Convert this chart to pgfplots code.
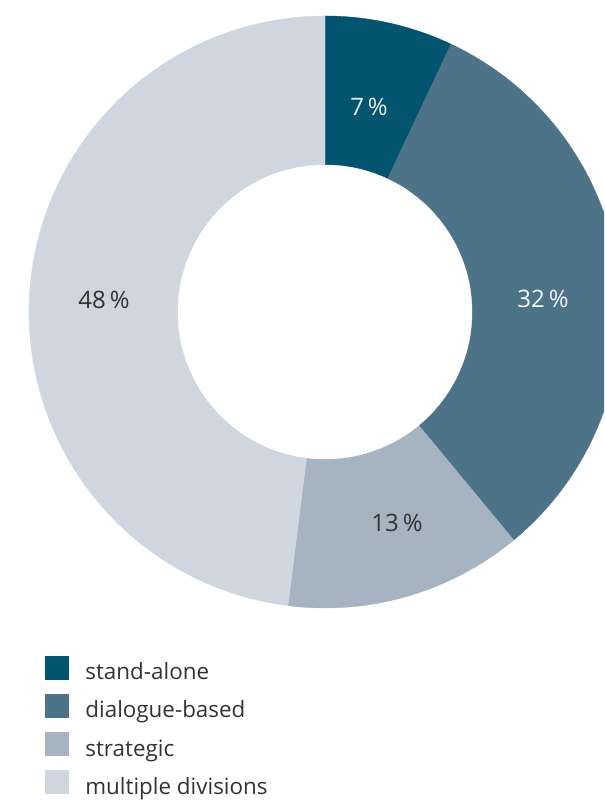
\documentclass[border=0pt]{standalone}
\usepackage{fontspec}
\setmainfont{Open Sans}
\usepackage{pgfplots}
\pgfplotsset{compat=1.18}
\definecolor{c1}{HTML}{03546E}
\definecolor{c2}{HTML}{4D7389}
\definecolor{c3}{HTML}{A6B4C2}
\definecolor{c4}{HTML}{CFD6DF}
\definecolor{txt}{HTML}{333333}
\def\pA{7}\def\pB{32}\def\pC{13}\def\pD{48}
\def\cx{325}\def\cy{489}\def\R{296}\def\r{147}
\begin{document}
\begin{tikzpicture}
\begin{axis}[at={(0,0)}, anchor=south west, width=302pt, height=400.5pt, scale only axis,
  xmin=0, xmax=604, ymin=0, ymax=801, hide axis, clip=true,
  legend style={at={(axis cs:45,145)}, anchor=north west, draw=none, fill=none,
    font=\fontsize{11.2}{13}\selectfont\color{txt}, inner sep=0pt, outer sep=0pt,
    row sep=4.5pt, nodes={inner sep=0pt, text height=8.5pt, text depth=2.6pt},
    /tikz/every odd column/.append style={column sep=8.5pt}},
  legend image code/.code={\fill[#1] (0pt,-2.6pt) rectangle (11.5pt,8.9pt);},
  legend cell align=left,
]
\addplot[fill=c1, draw=c1, line width=0.2pt, domain={90-3.6*\pA}:90, samples=40]
  ({\cx+\R*cos(x)},{\cy+\R*sin(x)}) -- (axis cs:\cx,\cy) -- cycle;
\addplot[fill=c2, draw=c2, line width=0.2pt, domain={90-3.6*(\pA+\pB)}:{90-3.6*\pA}, samples=120]
  ({\cx+\R*cos(x)},{\cy+\R*sin(x)}) -- (axis cs:\cx,\cy) -- cycle;
\addplot[fill=c3, draw=c3, line width=0.2pt, domain={90-3.6*(\pA+\pB+\pC)}:{90-3.6*(\pA+\pB)}, samples=60]
  ({\cx+\R*cos(x)},{\cy+\R*sin(x)}) -- (axis cs:\cx,\cy) -- cycle;
\addplot[fill=c4, draw=c4, line width=0.2pt, domain={90-3.6*(\pA+\pB+\pC+\pD)}:{90-3.6*(\pA+\pB+\pC)}, samples=160]
  ({\cx+\R*cos(x)},{\cy+\R*sin(x)}) -- (axis cs:\cx,\cy) -- cycle;
\addplot[fill=white, draw=white, line width=0.2pt, domain=0:360, samples=200, forget plot]
  ({\cx+\r*cos(x)},{\cy+\r*sin(x)}) -- cycle;
\legend{stand-alone, dialogue-based, strategic, multiple divisions}
\node[font=\fontsize{12}{14}\selectfont, text=white!90!c1] at (axis cs:369,694) {7\,\%};
\node[font=\fontsize{12}{14}\selectfont, text=white!92!c2] at (axis cs:543,502) {32\,\%};
\node[font=\fontsize{12}{14}\selectfont, text=txt] at (axis cs:104,501) {48\,\%};
\node[font=\fontsize{12}{14}\selectfont, text=txt] at (axis cs:397,278) {13\,\%};
\end{axis}
\pgfresetboundingbox
\useasboundingbox (0,0) rectangle (302pt,400.5pt);
\end{tikzpicture}
\end{document}
